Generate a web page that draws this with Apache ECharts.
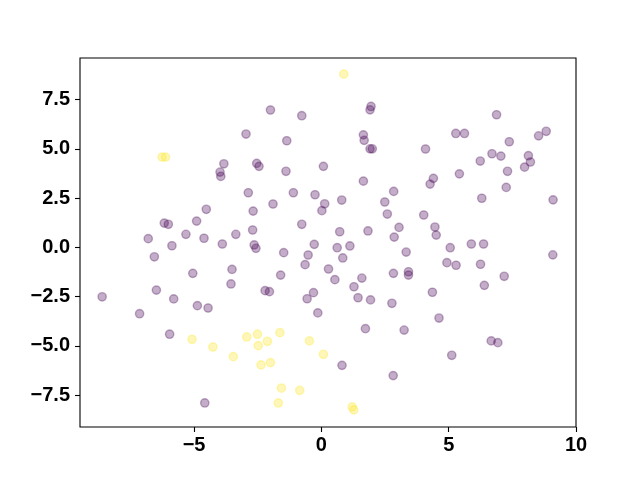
<!DOCTYPE html>
<html>
<head>
<meta charset="utf-8">
<script src="https://cdn.jsdelivr.net/npm/echarts@6/dist/echarts.min.js"></script>
<style>
html,body{margin:0;padding:0;background:#fff;}
#chart{width:640px;height:480px;}
</style>
</head>
<body>
<div id="chart"></div>
<script>
// Cluster 0 (purple)
var purpleX = [-2.96,-3.83,-3.98,-3.95,-2.87,-4.52,-4.90,-6.17,-6.01,-5.32,-4.61,-3.36,-6.80,-2.70,-5.87,-3.89,-6.56,-5.05,-3.51,-3.55,-6.48,-8.61,-5.80,-4.87,-4.45,-7.14,-5.96,-4.58,-2.64,-2.57,
  -2.00,-0.77,1.95,1.91,-1.36,1.65,1.68,1.91,2.00,-2.54,-2.45,-1.39,0.08,1.65,-1.10,-0.25,-1.90,0.13,0.02,0.80,2.84,2.49,2.59,-2.68,-0.77,0.72,1.83,3.05,2.86,-0.28,
  1.12,-1.48,-0.52,-0.64,0.62,0.84,3.33,-1.60,0.28,0.53,1.59,1.28,2.83,3.42,3.42,-2.21,-2.04,-0.31,-0.56,1.44,1.93,2.77,-0.14,1.73,3.25,0.81,2.82,
  6.88,5.28,5.62,7.38,8.53,8.83,4.09,6.24,6.70,7.05,8.13,8.21,7.98,7.31,5.42,4.40,4.27,7.26,6.30,9.10,4.02,4.46,4.51,5.06,5.89,6.37,9.09,4.93,5.29,6.25,7.18,6.40,4.36,4.62,6.67,6.93,5.12];
var purpleY = [5.75,4.24,3.82,3.60,2.77,1.93,1.33,1.23,1.17,0.66,0.46,0.66,0.44,0.88,0.08,0.17,-0.48,-1.32,-1.12,-1.86,-2.17,-2.51,-2.62,-2.96,-3.08,-3.37,-4.41,-7.90,0.12,-0.05,
  6.97,6.68,7.15,6.98,5.41,5.71,5.43,5.00,5.00,4.26,4.11,3.86,4.11,3.36,2.77,2.67,2.20,2.21,1.86,2.40,2.84,2.30,1.69,1.84,1.17,0.79,0.83,1.01,0.52,0.15,
  0.07,-0.27,-0.39,-0.88,-0.02,-0.54,-0.24,-1.41,-1.10,-1.64,-1.56,-2.00,-1.32,-1.24,-1.41,-2.20,-2.25,-2.30,-2.61,-2.56,-2.67,-2.84,-3.33,-4.13,-4.20,-5.99,-6.51,
  6.73,5.78,5.78,5.36,5.66,5.89,4.99,4.38,4.75,4.63,4.65,4.33,4.07,3.86,3.73,3.50,3.21,3.04,2.49,2.41,1.64,1.03,0.62,-0.02,0.17,0.17,-0.38,-0.78,-0.91,-0.86,-1.47,-1.93,-2.28,-3.59,-4.75,-4.84,-5.48];
// Cluster 1 (yellow)
var yellowX = [-6.26,-6.12,0.88,-5.08,-4.26,-3.46,-2.93,-2.51,-2.48,-2.12,-1.63,-0.47,0.08,-2.37,-2.00,-1.57,-0.85,-1.69,1.21,1.27];
var yellowY = [4.58,4.58,8.79,-4.67,-5.06,-5.55,-4.55,-4.41,-4.99,-4.77,-4.33,-4.75,-5.43,-5.97,-5.85,-7.15,-7.26,-7.90,-8.10,-8.25];
// Tick labels
var xTicks = [-5, 0, 5, 10];
var yTicks = [-7.5, -5.0, -2.5, 0.0, 2.5, 5.0, 7.5];

function pairs(xs, ys){ var out=[]; for (var i=0;i<xs.length;i++) out.push([xs[i], ys[i]]); return out; }
function fmtMinus(s){ return s.replace('-', '\u2212'); }

var labelStyle = {color:'#000', fontFamily:'Liberation Sans, Arial, sans-serif', fontWeight:'bold', fontSize:20};
var chart = echarts.init(document.getElementById('chart'), null, {renderer:'canvas'});
chart.setOption({
  animation:false,
  backgroundColor:'#fff',
  grid:{left:80, right:64, top:58, bottom:53, show:true, borderColor:'#000', borderWidth:1.1, backgroundColor:'transparent'},
  xAxis:{
    type:'value', min:-9.48, max:10.0,
    splitLine:{show:false},
    axisLine:{show:false, onZero:false},
    axisTick:{show:true, inside:false, length:5, lineStyle:{color:'#000', width:1.1}, customValues:xTicks},
    axisLabel:Object.assign({margin:8, customValues:xTicks, formatter:function(v){return fmtMinus(String(Math.round(v)));}}, labelStyle)
  },
  yAxis:{
    type:'value', min:-9.12, max:9.61,
    splitLine:{show:false},
    axisLine:{show:false, onZero:false},
    axisTick:{show:true, inside:false, length:5, lineStyle:{color:'#000', width:1.1}, customValues:yTicks},
    axisLabel:Object.assign({margin:10, customValues:yTicks, formatter:function(v){return fmtMinus(v.toFixed(1));}}, labelStyle)
  },
  series:[
    {type:'scatter', data:pairs(purpleX, purpleY), symbol:'circle', symbolSize:8.3,
     itemStyle:{color:'rgba(68,1,84,0.4)', borderColor:'rgba(68,1,84,0.4)', borderWidth:1.4}},
    {type:'scatter', data:pairs(yellowX, yellowY), symbol:'circle', symbolSize:8.3,
     itemStyle:{color:'rgba(253,231,37,0.4)', borderColor:'rgba(253,231,37,0.4)', borderWidth:1.4}}
  ]
});
</script>
</body>
</html>
